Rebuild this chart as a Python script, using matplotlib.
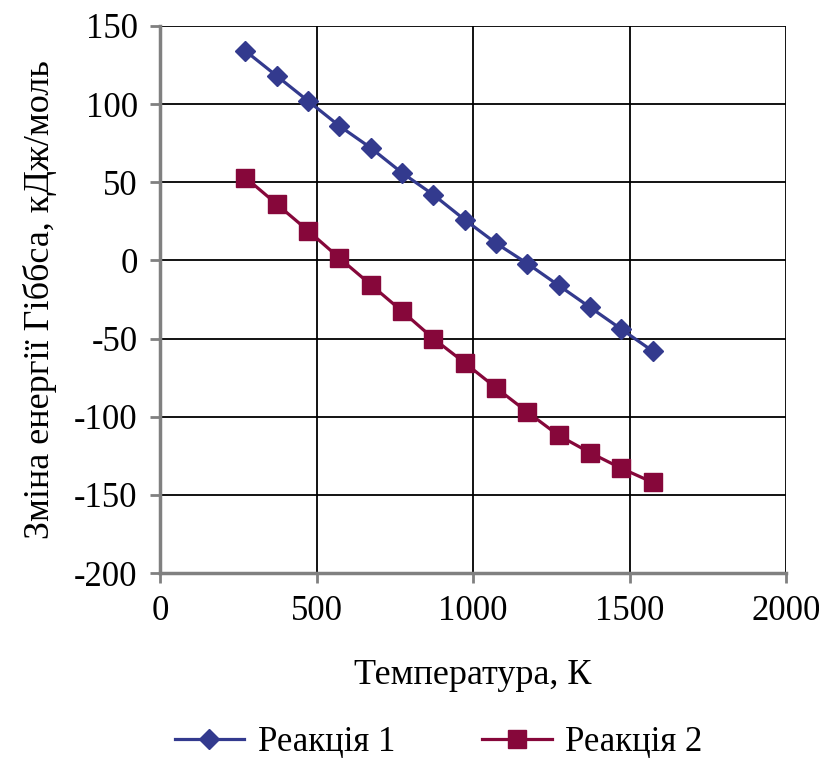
import matplotlib
matplotlib.use('Agg')
import matplotlib.pyplot as plt

# Температура, К
temps = [273, 373, 473, 573, 673, 773, 873, 973, 1073, 1173, 1273, 1373, 1473, 1573]
# Зміна енергії Гіббса, кДж/моль
reaction1 = [134, 118, 102, 86, 72, 56, 42, 26, 11, -2, -16, -30, -44, -58]
reaction2 = [53, 36, 19, 1.5, -15.5, -32.5, -50, -65.5, -81.5, -97, -112, -123, -133, -142]
x_ticks = [0, 500, 1000, 1500, 2000]
y_ticks = [-200, -150, -100, -50, 0, 50, 100, 150]

plt.rcParams['font.family'] = ['Liberation Serif', 'DejaVu Serif']
plt.rcParams['axes.unicode_minus'] = False

fig = plt.figure(figsize=(8.2, 7.62), dpi=100)
ax = fig.add_axes([0.195, 0.248, 0.764, 0.718])

ax.plot(temps, reaction1, color='#333a8e', lw=2.3, marker='D', ms=10,
        label='Реакція 1', zorder=3)
ax.plot(temps, reaction2, color='#86073a', lw=2.3, marker='s', ms=13,
        label='Реакція 2', zorder=3)

ax.set_xlim(0, 2000)
ax.set_ylim(-200, 150)
ax.set_xticks(x_ticks)
ax.set_yticks(y_ticks)
ax.grid(True, color='black', lw=1.3)

for side in ['top', 'right']:
    ax.spines[side].set_visible(False)
for side in ['left', 'bottom']:
    ax.spines[side].set_color('#808080')
    ax.spines[side].set_linewidth(2.5)
ax.tick_params(direction='out', length=7, width=2, color='#808080',
               labelsize=25, pad=9)

ax.set_xlabel('Температура, К', fontsize=26, labelpad=22)
ax.set_ylabel('Зміна енергії Гіббса, кДж/моль', fontsize=26, labelpad=12)

fig.legend(loc='center', bbox_to_anchor=(0.535, 0.025), ncol=2,
           frameon=False, fontsize=25, handlelength=2.0, columnspacing=2.5,
           handletextpad=0.4)

fig.savefig('out.png', dpi=100, facecolor='white')
